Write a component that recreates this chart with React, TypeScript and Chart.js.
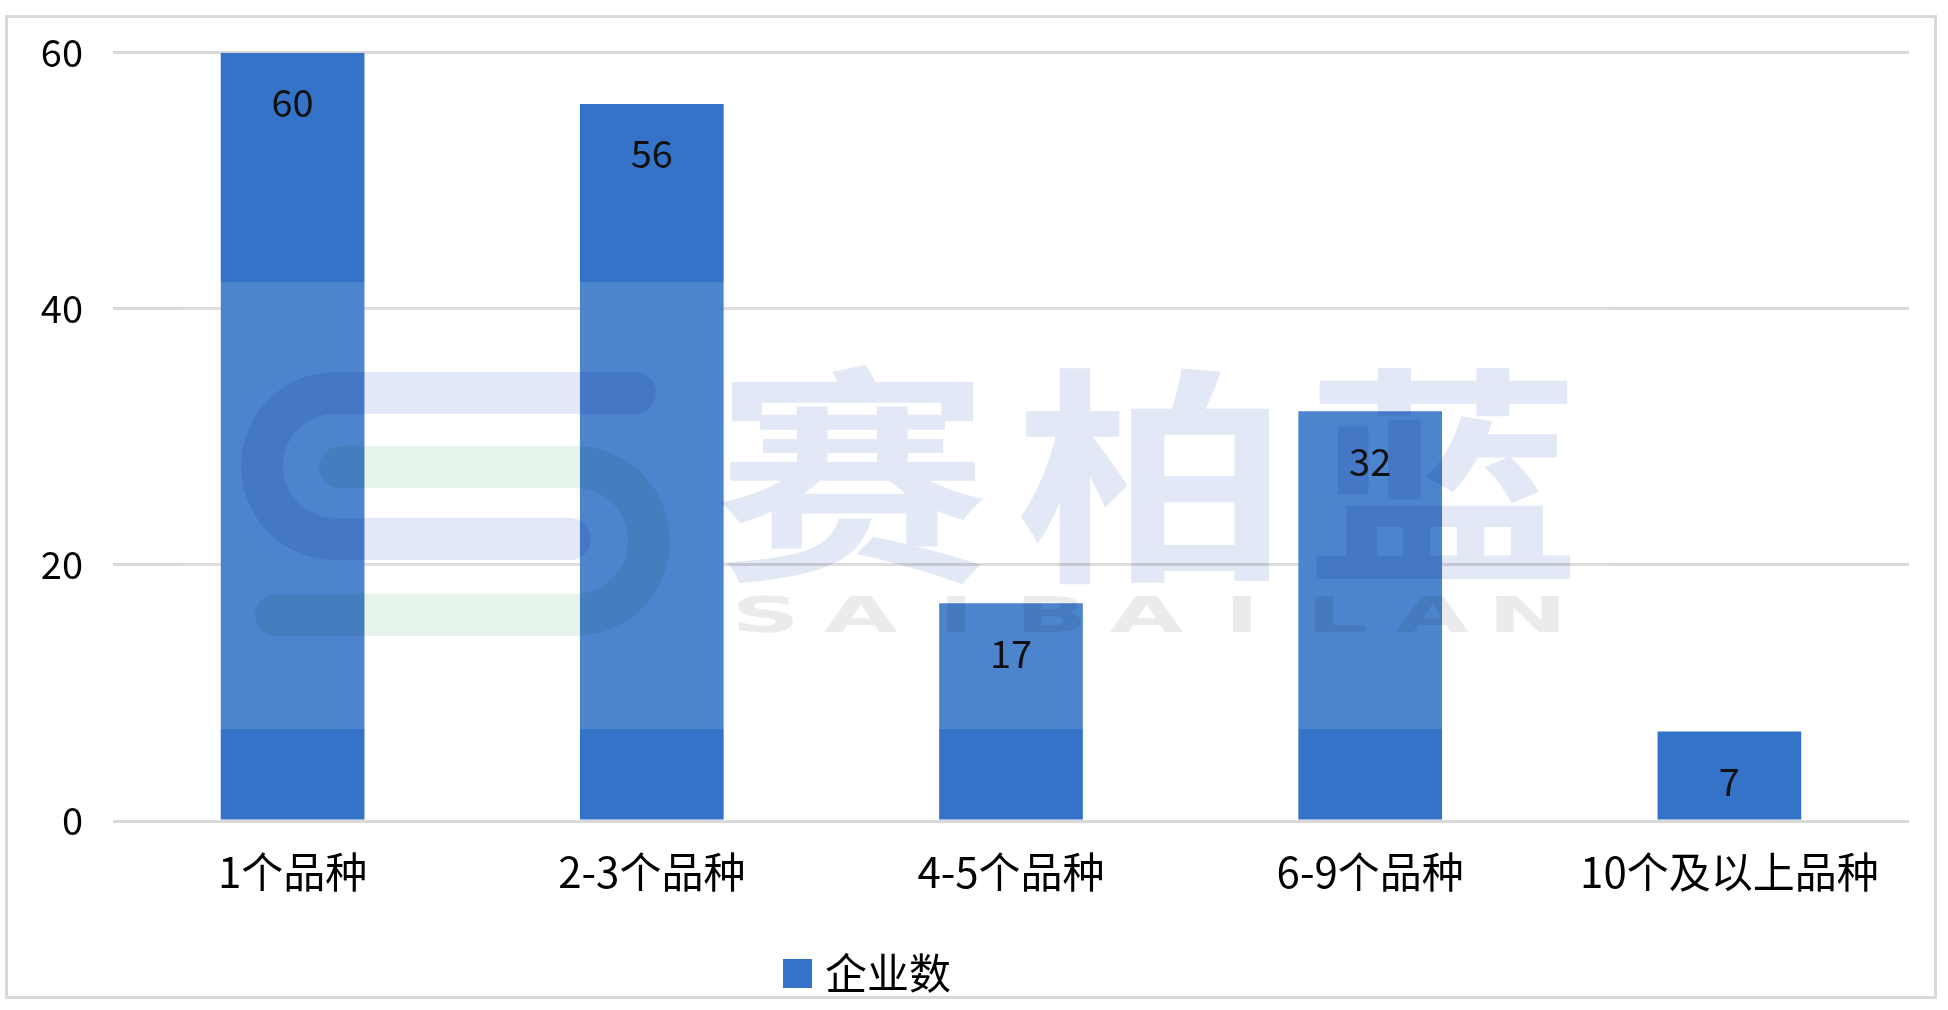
import React, { useEffect, useRef } from "react";
import { Chart, registerables } from "chart.js";

Chart.register(...registerables);

// ---- data ----
const categories = ["1个品种", "2-3个品种", "4-5个品种", "6-9个品种", "10个及以上品种"];
const enterpriseCounts = [60, 56, 17, 32, 7];
const seriesName = "企业数";
const yMin = 0;
const yMax = 60;
const yStep = 20;
const watermarkChars = ["赛", "柏", "蓝"];
const watermarkLatin = "SAIBAILAN";

const FONT = '"Noto Sans CJK SC", "Noto Sans", sans-serif';
const BAR_COLOR = "#3473c8";
const GRID_COLOR = "#d9d9d9";

const framePlugin = {
  id: "frame",
  beforeDraw(chart: any) {
    const { ctx, width, height } = chart;
    ctx.save();
    ctx.fillStyle = "#ffffff";
    ctx.fillRect(0, 0, width, height);
    ctx.strokeStyle = GRID_COLOR;
    ctx.lineWidth = 3;
    ctx.strokeRect(6.5, 16.5, 1929, 981);
    ctx.restore();
  },
};

const watermarkPlugin = {
  id: "watermark",
  afterDatasetsDraw(chart: any) {
    const { ctx } = chart;
    ctx.save();
    ctx.fillStyle = "rgba(255,255,255,0.12)";
    ctx.fillRect(180, 282, 1430, 447);
    ctx.globalCompositeOperation = "multiply";

    ctx.lineCap = "round";
    ctx.lineWidth = 42;
    ctx.strokeStyle = "#e2e8f5";
    ctx.beginPath();
    ctx.moveTo(635, 393);
    ctx.lineTo(335, 393);
    ctx.arc(335, 466, 73, -Math.PI / 2, Math.PI / 2, true);
    ctx.lineTo(570, 539);
    ctx.stroke();
    ctx.strokeStyle = "#e5f3eb";
    ctx.beginPath();
    ctx.moveTo(340, 467);
    ctx.lineTo(575, 467);
    ctx.arc(575, 541, 74, -Math.PI / 2, Math.PI / 2, false);
    ctx.lineTo(276, 615);
    ctx.stroke();

    ctx.fillStyle = "#e2e8f5";
    ctx.textAlign = "center";
    ctx.textBaseline = "middle";
    ctx.font = `bold 230px ${FONT}`;
    const centers = [852, 1153, 1443];
    watermarkChars.forEach((ch, i) => {
      ctx.save();
      ctx.translate(centers[i], 476);
      ctx.scale(1.2, 1);
      ctx.fillText(ch, 0, 0);
      ctx.restore();
    });
    ctx.fillStyle = "#ebebeb";
    ctx.font = `bold 50px "DejaVu Sans", sans-serif`;
    const pitch = (1575 - 718) / watermarkLatin.length;
    for (let i = 0; i < watermarkLatin.length; i++) {
      ctx.save();
      ctx.translate(718 + pitch / 2 + i * pitch, 619);
      ctx.scale(1.9, 1);
      ctx.fillText(watermarkLatin[i], 0, 0);
      ctx.restore();
    }
    ctx.restore();
  },
};

const labelPlugin = {
  id: "barLabels",
  afterDatasetsDraw(chart: any) {
    const { ctx } = chart;
    const meta = chart.getDatasetMeta(0);
    const values = chart.data.datasets[0].data;
    ctx.save();
    ctx.fillStyle = "#111111";
    ctx.font = `38px ${FONT}`;
    ctx.textAlign = "center";
    ctx.textBaseline = "middle";
    meta.data.forEach((el: any, i: number) => {
      ctx.fillText(String(values[i]), el.x, el.y + 50);
    });
    ctx.restore();
  },
};

const legendPlugin = {
  id: "customLegend",
  afterDraw(chart: any) {
    const { ctx } = chart;
    const ds = chart.data.datasets[0];
    ctx.save();
    ctx.fillStyle = ds.backgroundColor;
    ctx.fillRect(783, 959, 29, 29);
    ctx.fillStyle = "#000000";
    ctx.font = `42px ${FONT}`;
    ctx.textAlign = "left";
    ctx.textBaseline = "middle";
    ctx.fillText(ds.label, 825, 973);
    ctx.restore();
  },
};

export default function App() {
  const canvasRef = useRef<HTMLCanvasElement | null>(null);

  useEffect(() => {
    if (!canvasRef.current) return;
    const chart = new Chart(canvasRef.current, {
      type: "bar",
      data: {
        labels: categories,
        datasets: [
          {
            label: seriesName,
            data: enterpriseCounts,
            backgroundColor: BAR_COLOR,
            borderWidth: 0,
            barPercentage: 0.8,
            categoryPercentage: 0.5,
          },
        ],
      },
      options: {
        responsive: false,
        animation: false,
        layout: { padding: { top: 50, right: 39, left: 0, bottom: 0 } },
        plugins: {
          legend: { display: false },
          tooltip: { enabled: false },
        },
        scales: {
          x: {
            grid: { display: false },
            border: { display: false },
            ticks: {
              color: "#000000",
              font: { family: FONT, size: 42, lineHeight: 1.2 },
              padding: 18,
              maxRotation: 0,
              autoSkip: false,
            },
            afterFit(scale: any) {
              scale.height = 189;
            },
          },
          y: {
            min: yMin,
            max: yMax,
            grid: { color: GRID_COLOR, lineWidth: 3, drawTicks: false },
            border: { display: false },
            ticks: {
              stepSize: yStep,
              color: "#000000",
              font: { family: FONT, size: 38, lineHeight: 1.2 },
              padding: 30,
            },
            afterFit(scale: any) {
              scale.width = 113;
            },
          },
        },
      },
      plugins: [framePlugin, watermarkPlugin, labelPlugin, legendPlugin],
    });
    return () => chart.destroy();
  }, []);

  return (
    <div style={{ position: "fixed", left: 0, top: 0, width: 1948, height: 1010, background: "#fff" }}>
      <canvas ref={canvasRef} width={1948} height={1010} style={{ display: "block" }} />
    </div>
  );
}
